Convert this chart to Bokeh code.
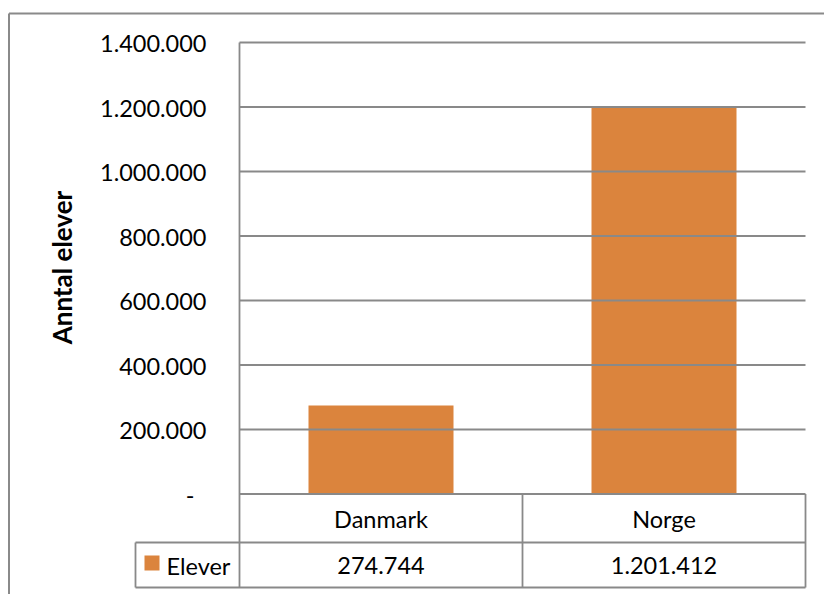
import math
from bokeh.plotting import figure
from bokeh.models import Range1d, ColumnDataSource
from bokeh.core.properties import value
from bokeh.embed import file_html
from bokeh.resources import INLINE

# ---------------- data ----------------
categories = ["Danmark", "Norge"]
series_name = "Elever"
elever = [274744, 1201412]
value_labels = ["274.744", "1.201.412"]
y_ticks = [0, 200000, 400000, 600000, 800000, 1000000, 1200000, 1400000]
y_tick_labels = ["-", "200.000", "400.000", "600.000", "800.000",
                 "1.000.000", "1.200.000", "1.400.000"]
y_title = "Anntal elever"

# ---------------- layout (canvas pixels) ----------------
W, H = 824, 594
PLOT_LEFT = 239.0      # canvas x of plot-area left edge
CAT_PX = 283.0         # pixels per category
ZERO_Y = 493.5         # canvas y of value 0
TOP_Y = 42.0           # canvas y of y max
YMAX = y_ticks[-1]
VPP = YMAX / (ZERO_Y - TOP_Y)


def ux(cx):
    return (cx - PLOT_LEFT) / CAT_PX


def vy(cy):
    return (ZERO_Y - cy) * VPP


FONT = value("Lato")
FS = "23.5px"
GRID = "#898989"
BAR = "#DB843D"

p = figure(width=W, height=H, output_backend="svg", toolbar_location=None,
           x_range=Range1d(ux(0), ux(W)), y_range=Range1d(vy(H), vy(0)),
           x_axis_location=None, y_axis_location=None, min_border=0,
           outline_line_color=None, background_fill_color="white",
           border_fill_color="white")
p.xgrid.visible = False
p.ygrid.visible = False

n = len(categories)
xc = [i + 0.5 for i in range(n)]

# outer chart border (left and top only visible in window)
p.segment(x0=[ux(8.5), ux(8.5)], y0=[vy(13), vy(13)], x1=[ux(8.5), ux(W + 50)],
          y1=[vy(H + 50), vy(13)], line_color="#8a8a8a", line_width=2)

# bars
p.vbar(x=xc, top=elever, bottom=0, width=145 / CAT_PX, fill_color=BAR,
       line_color=None)

# gridlines (incl. zero line)
p.segment(x0=[0] * len(y_ticks), x1=[n] * len(y_ticks), y0=y_ticks, y1=y_ticks,
          line_color=GRID, line_width=1.8)

# data table
ROW_SEP = vy(542)
TBL_BOT = vy(587)
LEG_LEFT = ux(135)
xs = [[0, 0], [LEG_LEFT, n], [LEG_LEFT, n], [LEG_LEFT, LEG_LEFT]]
ys = [[YMAX, TBL_BOT], [ROW_SEP, ROW_SEP], [TBL_BOT, TBL_BOT], [ROW_SEP, TBL_BOT]]
for i in range(1, n + 1):
    xs.append([i, i])
    ys.append([0, TBL_BOT])
p.multi_line(xs=xs, ys=ys, line_color=GRID, line_width=1.8)

# y tick labels
tick_src = ColumnDataSource(dict(
    x=[ux(206)] * len(y_ticks), y=y_ticks, t=y_tick_labels,
    off=[-12 if t == "-" else 0 for t in y_tick_labels]))
p.text(x="x", y="y", text="t", x_offset="off", y_offset=1, source=tick_src,
       text_align="right", text_baseline="middle", text_font=FONT,
       text_font_size=FS, text_color="black")

# category row
p.text(x=xc, y=[vy(518)] * n, text=categories, text_align="center",
       text_baseline="middle", text_font=FONT, text_font_size=FS,
       text_color="black")

# value row
p.text(x=xc, y=[vy(565)] * n, text=value_labels, text_align="center",
       text_baseline="middle", text_font=FONT, text_font_size=FS,
       text_color="black")

# legend key
p.scatter(x=[ux(151.5)], y=[vy(562.5)], marker="square", size=15,
          fill_color=BAR, line_color=None)
p.text(x=[ux(166)], y=[vy(565)], text=[series_name], text_align="left",
       text_baseline="middle", text_font=FONT, text_font_size=FS,
       text_color="black")

# axis title
p.text(x=[ux(61)], y=[vy(267)], text=[y_title], angle=math.pi / 2,
       text_align="center", text_baseline="middle", text_font=FONT,
       text_font_size="26px", text_font_style="bold", text_color="black")

open("out.html", "w").write(file_html(p, INLINE))
